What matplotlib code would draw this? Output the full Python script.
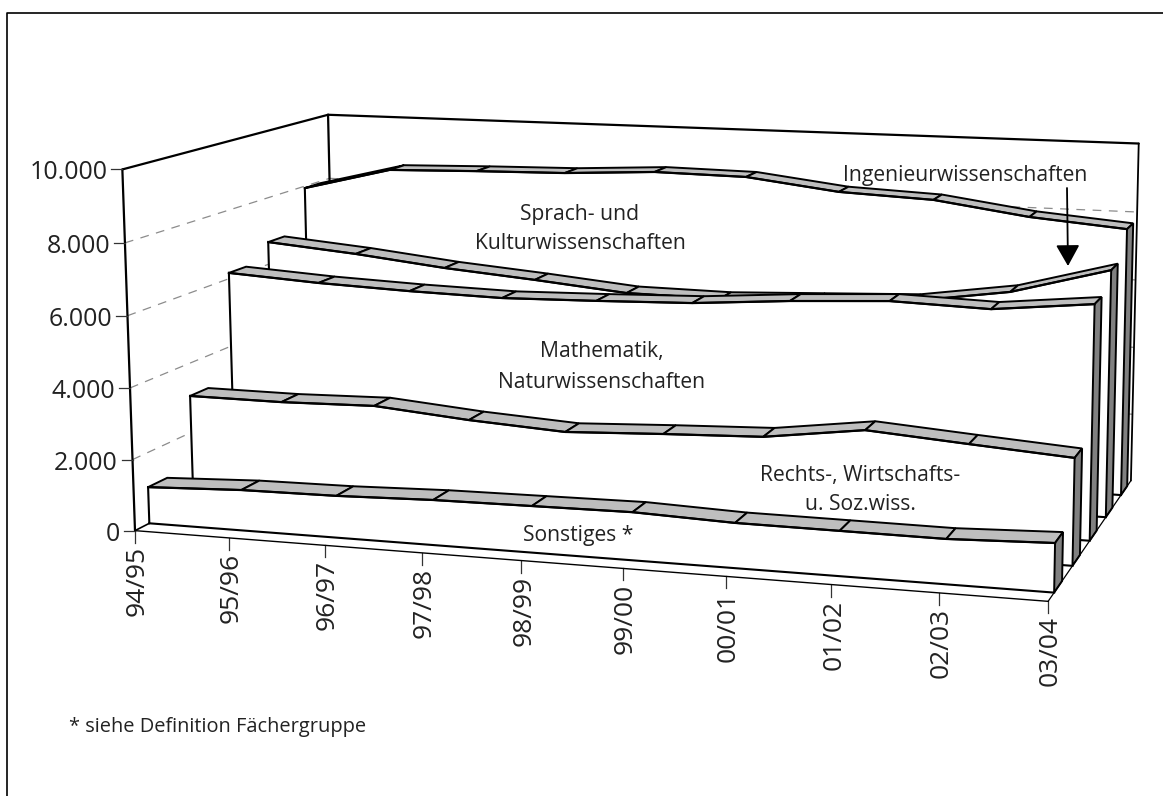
import numpy as np
import matplotlib
matplotlib.use('Agg')
import matplotlib.pyplot as plt

plt.rcParams['font.family'] = ['Open Sans', 'DejaVu Sans']

# Studienjahre
jahre = ['94/95', '95/96', '96/97', '97/98', '98/99', '99/00', '00/01', '01/02', '02/03', '03/04']
y_ticks = [0, 2000, 4000, 6000, 8000, 10000]
y_labels = ['0', '2.000', '4.000', '6.000', '8.000', '10.000']

# Werte von vorne nach hinten
sonstiges = [1030, 1140, 1170, 1250, 1280, 1310, 1220, 1210, 1200, 1300]
recht = [3060, 3050, 3110, 2880, 2720, 2840, 2940, 3300, 3100, 2910]
mathe = [6170, 6010, 5910, 5850, 5910, 5990, 6190, 6330, 6250, 6530]
ingenieur = [6670, 6440, 6150, 5930, 5680, 5650, 5760, 5870, 6270, 7020]
sprach = [7940, 8610, 8680, 8730, 8870, 8830, 8500, 8380, 8000, 7770]
reihen = [sonstiges, recht, mathe, ingenieur, sprach]

# Kameramatrix: (Jahr 0..1, Tiefe 0..1, Wert/10000, 1) -> Bildpunkt
P = np.array([[826.059498, 252.722754, -15.162462, 134.994578],
              [20.742502, -35.583215, -364.721625, 530.64209],
              [-0.083072, 0.156331, -0.020658, 1.0]])


def proj(i, d, wert):
    h = P @ np.array([i / (len(jahre) - 1), d, wert / 10000, 1.0])
    return h[0] / h[2], h[1] / h[2]


def linie(ax, a, b, lw=1.5, color='black', ls='-', z=2):
    ax.plot([a[0], b[0]], [a[1], b[1]], color=color, lw=lw, ls=ls, zorder=z, solid_capstyle='round')


fig = plt.figure(figsize=(11.63, 7.96), dpi=100)
ax = fig.add_axes([0, 0, 1, 1])
ax.set_xlim(0, 1163)
ax.set_ylim(796, 0)
ax.axis('off')

n = len(jahre) - 1
grau = '#8c8c8c'

# Hilfslinien an Seiten- und Rueckwand
for w in y_ticks[1:-1]:
    linie(ax, proj(0, 0, w), proj(0, 1, w), lw=0.9, color=grau, ls=(0, (7, 6)), z=1)
    linie(ax, proj(0, 1, w), proj(n, 1, w), lw=0.9, color=grau, ls=(0, (7, 6)), z=1)

# Waende
linie(ax, proj(0, 0, 0), proj(0, 0, 10000), lw=1.6)
linie(ax, proj(0, 0, 10000), proj(0, 1, 10000), lw=1.6)
linie(ax, proj(0, 1, 10000), proj(n, 1, 10000), lw=1.6)
linie(ax, proj(0, 1, 10000), proj(0, 1, 0), lw=1.6)
linie(ax, proj(n, 1, 10000), proj(n, 1, 0), lw=1.3)
linie(ax, proj(0, 0, 0), proj(0, 1, 0), lw=1.2)
linie(ax, proj(n, 0, 0), proj(n, 1, 0), lw=0.9, z=40)
linie(ax, proj(0, 0, 0), proj(n, 0, 0), lw=1.0, z=40)

# Baender von hinten nach vorne
for k in range(len(reihen) - 1, -1, -1):
    werte = reihen[k]
    d1 = 0.0625 + 0.2 * k
    d2 = d1 + 0.085
    z = 10 + 4 * (len(reihen) - k)
    vorn = [proj(i, d1, w) for i, w in enumerate(werte)]
    basis = [proj(i, d1, 0) for i in range(n + 1)]
    ax.fill([p[0] for p in vorn + basis[::-1]], [p[1] for p in vorn + basis[::-1]],
            facecolor='white', edgecolor='none', zorder=z)
    ax.plot([p[0] for p in vorn], [p[1] for p in vorn], color='black', lw=1.6, zorder=z + 2)
    ax.plot([p[0] for p in basis], [p[1] for p in basis], color='black', lw=1.5, zorder=z + 2)
    linie(ax, vorn[0], basis[0], lw=1.5, z=z + 2)
    # Oberseite
    for i in range(n):
        ecken = [vorn[i], vorn[i + 1], proj(i + 1, d2, werte[i + 1]), proj(i, d2, werte[i])]
        ax.fill([p[0] for p in ecken], [p[1] for p in ecken], facecolor='#bebebe',
                edgecolor='black', lw=1.4, zorder=z + 1)
    # Stirnseite rechts
    ecken = [vorn[n], proj(n, d2, werte[n]), proj(n, d2, 0), basis[n]]
    ax.fill([p[0] for p in ecken], [p[1] for p in ecken], facecolor='#808080',
            edgecolor='black', lw=1.4, zorder=z + 1)

# Achsenbeschriftung
for w, t in zip(y_ticks, y_labels):
    x, y = proj(0, 0, w)
    ax.plot([x - 11, x], [y, y], color='#333333', lw=0.9, zorder=3)
    ax.text(x - 15, y + 3.5, t, ha='right', va='center', fontsize=18, color='#222222')
for i, t in enumerate(jahre):
    x, y = proj(i, 0, 0)
    ax.plot([x, x], [y, y + 12], color='#333333', lw=0.9, zorder=3)
    ax.text(x + 2.5, y + 15, t, ha='center', va='top', rotation=90, fontsize=19, color='#222222')

# Beschriftungen
fs = 15.2
farbe = '#222222'
ax.text(580, 229, 'Sprach- und\nKulturwissenschaften', ha='center', va='center', fontsize=fs, color=farbe, zorder=50, linespacing=1.55)
ax.text(602, 367, 'Mathematik,\nNaturwissenschaften', ha='center', va='center', fontsize=fs, color=farbe, zorder=50, linespacing=1.65)
ax.text(860, 490, 'Rechts-, Wirtschafts-\nu. Soz.wiss.', ha='center', va='center', fontsize=fs, color=farbe, zorder=50, linespacing=1.55)
ax.text(578, 535.5, 'Sonstiges *', ha='center', va='center', fontsize=fs, color=farbe, zorder=50)
ax.text(965, 175.5, 'Ingenieurwissenschaften', ha='center', va='center', fontsize=fs, color=farbe, zorder=50)
ax.text(69, 727, '* siehe Definition Fächergruppe', ha='left', va='center', fontsize=14.4, color=farbe, zorder=50)

# Pfeil
ax.annotate('', xy=(1068, 266), xytext=(1067, 188),
            arrowprops=dict(arrowstyle='-|>,head_width=0.73,head_length=1.3', color='black', lw=1.3, shrinkA=0, shrinkB=0),
            zorder=60)

# Rahmen
ax.plot([7, 7, 1163], [796, 12.5, 12.5], color='black', lw=1.2, zorder=60)

fig.savefig('out.png', dpi=100)
